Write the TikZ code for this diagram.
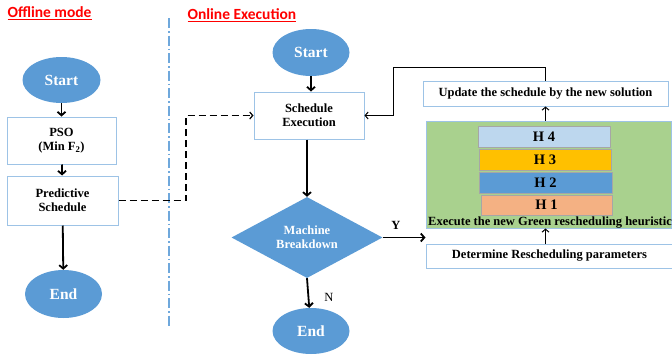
\documentclass[tikz,border=0pt]{standalone}
\usepackage{fontspec}
\setmainfont{Liberation Serif}
\newfontfamily\calib{Carlito}
\usetikzlibrary{arrows.meta,shapes.geometric}
\definecolor{obl}{HTML}{5B9BD5}
\definecolor{bord}{HTML}{9DC3E6}
\definecolor{grn}{HTML}{A9D18E}
\definecolor{hfour}{HTML}{BDD7EE}
\definecolor{hthree}{HTML}{FFC000}
\definecolor{hone}{HTML}{F4B183}
\definecolor{divc}{HTML}{6FA8DC}
\begin{document}
\begin{tikzpicture}[x=1pt,y=-1pt,
  oval/.style={ellipse,fill=obl,draw=none,inner sep=0,text=white,font=\fontsize{15.5}{16}\selectfont\bfseries},
  box/.style={rectangle,draw=bord,line width=1pt,fill=white,inner sep=0,align=center,font=\fontsize{12.5}{14}\selectfont\bfseries},
  hbox/.style={rectangle,draw=gray!70,line width=0.8pt,inner sep=0,minimum width=132pt,minimum height=21pt,font=\fontsize{14.5}{15}\selectfont\bfseries},
  arr/.style={line width=1.8pt,-{Straight Barb[length=3.5pt,width=8pt]}},
  thin/.style={line width=1pt,-{Straight Barb[length=3pt,width=7pt]}},
  ttl/.style={anchor=west,text=red,font=\calib\fontsize{15.5}{17}\selectfont\bfseries}
]
\useasboundingbox (0,0) rectangle (672,354);
% titles
\node[ttl] (t1) at (4,13) {\underline{Offline mode}};
\node[ttl] (t2) at (184,15) {\underline{Online Execution}};
% divider
\coordinate (d1) at (169,18);
\coordinate (d2) at (169,328);
\draw[divc,line width=1.5pt,dash pattern=on 10pt off 3pt on 1.5pt off 3pt] (d1) -- (d2);
% offline column
\node[oval,minimum width=78pt,minimum height=46pt] (s1) at (61.5,80) {Start};
\node[box,minimum width=109pt,minimum height=47pt] (pso) at (61.5,140.5) {PSO\\(Min F\textsubscript{2})};
\node[box,minimum width=111pt,minimum height=49pt] (pred) at (62.5,200.5) {Predictive\\Schedule};
\node[oval,minimum width=77pt,minimum height=48pt] (e1) at (63.5,294) {End};
\draw[arr] (s1) -- (pso);
\draw[arr] (pso) -- (pred);
\draw[arr] (pred) -- (e1);
% online column
\node[oval,minimum width=77pt,minimum height=47pt] (s2) at (311,52.5) {Start};
\node[box,minimum width=110pt,minimum height=47pt] (se) at (309,115.5) {Schedule\\Execution};
\node[diamond,aspect=2,fill=obl,inner sep=0,minimum width=151pt,minimum height=81pt,text=white,align=center,font=\fontsize{12.5}{14}\selectfont\bfseries] (dia) at (307,237.5) {Machine\\Breakdown};
\node[oval,minimum width=77pt,minimum height=46pt] (e2) at (311,331) {End};
\draw[arr] (s2) -- (s2 |- se.north);
\draw[arr] (se.south -| dia.north) -- (dia.north);
\draw[arr] (dia.south) -- (e2);
\node[font=\fontsize{12.5}{13}\selectfont] (nl) at (329,297) {N};
% dashed link
\coordinate (dk) at (186,115.5);
\draw[line width=1.2pt,dash pattern=on 7pt off 4pt,-{Straight Barb[length=3pt,width=7pt]}] (pred.east) -| (dk) -- (se.west);
% right side
\node[box,minimum width=245pt,minimum height=25pt,font=\fontsize{12.5}{13}\selectfont\bfseries] (upd) at (545.5,93.5) {Update the schedule by the new solution};
\node[rectangle,fill=grn,draw=bord,line width=1pt,minimum width=245pt,minimum height=107pt] (grn) at (548.5,174.5) {};
\node[hbox,fill=hfour] (h4) at (544,136.5) {H 4};
\node[hbox,fill=hthree] (h3) at (545,159.5) {H 3};
\node[hbox,fill=obl,minimum width=133pt] (h2) at (545.5,182.5) {H 2};
\node[hbox,fill=hone,minimum width=131pt,minimum height=20pt] (h1) at (546.5,205) {H 1};
\node[anchor=west,inner sep=0,font=\fontsize{12.5}{13}\selectfont\bfseries] (gl) at (428,222.5) {Execute the new Green rescheduling heuristics};
\node[box,minimum width=247pt,minimum height=24pt,font=\fontsize{12.5}{13}\selectfont\bfseries] (det) at (549.5,256) {Determine Rescheduling parameters};
\draw[arr] (dia.east) -- (dia.east -| grn.west);
\node[font=\fontsize{12.5}{13}\selectfont\bfseries] (yl) at (396,225) {Y};
\draw[thin] (det.north -| upd.north) -- (grn.south -| upd.north);
\draw[thin] (grn.north -| upd.north) -- (upd.south);
\coordinate (fb) at (393,67);
\draw[thin] (upd.north) |- (fb) |- (se.east);
\end{tikzpicture}
\end{document}
